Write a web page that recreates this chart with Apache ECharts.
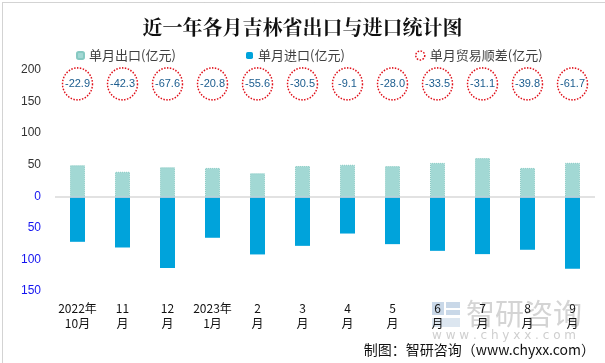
<!DOCTYPE html>
<html><head><meta charset="utf-8">
<script src="https://cdn.jsdelivr.net/npm/echarts@6/dist/echarts.min.js"></script>
<style>html,body{margin:0;padding:0;background:#fff}#c{width:605px;height:363px}</style>
</head><body><div id="c"></div>
<script>
const categories = ['2022年\n10月','11\n月','12\n月','2023年\n1月','2\n月','3\n月','4\n月','5\n月','6\n月','7\n月','8\n月','9\n月'];
const exportValues = [49.2, 38.8, 46.0, 44.9, 36.5, 48.0, 49.9, 47.8, 52.9, 60.5, 44.9, 53.0];
const importValues = [72.1, 81.1, 113.6, 65.7, 92.1, 78.5, 59.0, 75.8, 86.4, 91.6, 84.7, 114.7];
const balanceValues = [-22.9, -42.3, -67.6, -20.8, -55.6, -30.5, -9.1, -28.0, -33.5, -31.1, -39.8, -61.7];
const yTicks = {min: -150, max: 200, interval: 50};
const balanceRow = 178;

const chart = echarts.init(document.getElementById('c'));
const sans = '"Noto Sans CJK SC", "Noto Sans", sans-serif';
chart.setOption({
  animation: false,
  backgroundColor: '#fff',
  title: {
    text: '近一年各月吉林省出口与进口统计图',
    left: 'center', top: 12,
    textStyle: {fontFamily: '"Noto Serif CJK SC", "Noto Sans CJK SC", serif', fontWeight: 'bold', fontSize: 20, color: '#111'}
  },
  legend: [
    {data: ['单月出口(亿元)'], left: 71, top: 44, itemWidth: 7, itemHeight: 7, itemGap: 4,
     textStyle: {fontFamily: sans, fontSize: 13, color: '#404040'}},
    {data: ['单月进口(亿元)'], left: 241, top: 44, itemWidth: 7, itemHeight: 7,
     textStyle: {fontFamily: sans, fontSize: 13, color: '#404040'}},
    {data: [{name: '单月贸易顺差(亿元)', itemStyle: {color: '#fff', borderColor: '#E0101A', borderWidth: 1.5, borderType: 'dotted'}}],
     left: 410, top: 44, itemWidth: 9, itemHeight: 9,
     textStyle: {fontFamily: sans, fontSize: 13, color: '#404040'}}
  ],
  grid: {left: 55, right: 10, top: 70, bottom: 72},
  xAxis: {
    type: 'category', data: categories,
    axisLine: {show: false, onZero: false}, axisTick: {show: false},
    axisLabel: {margin: 10, fontSize: 12, lineHeight: 15, color: '#111', fontFamily: '"Noto Sans CJK SC", sans-serif', interval: 0}
  },
  yAxis: {
    type: 'value', min: yTicks.min, max: yTicks.max, interval: yTicks.interval,
    splitLine: {show: false}, axisLine: {show: false}, axisTick: {show: false},
    axisLabel: {
      fontSize: 12, fontFamily: '"Liberation Sans", sans-serif', margin: 14,
      formatter: v => String(Math.abs(v)),
      color: v => (v > 0 ? '#333' : (v === 0 ? '#B8651B' : '#1414F0'))
    }
  },
  series: [
    {
      name: '单月出口(亿元)', type: 'bar', stack: 'a', barWidth: 15,
      data: exportValues,
      itemStyle: {color: '#A2D8D4', borderColor: '#86C9C2', borderWidth: 1, borderType: 'dotted'},
      markLine: {silent: true, symbol: 'none', label: {show: false},
        lineStyle: {color: '#D9D9D9', width: 1.5, type: 'solid'}, data: [{yAxis: 0}]}
    },
    {
      name: '单月进口(亿元)', type: 'bar', stack: 'a', barWidth: 15,
      data: importValues.map(v => -v),
      itemStyle: {color: '#00A3DB'}
    },
    {
      name: '单月贸易顺差(亿元)', type: 'scatter',
      data: balanceValues.map((v, i) => [i, balanceRow, v]),
      symbol: 'circle', symbolSize: [30, 32],
      itemStyle: {color: '#fff', borderColor: '#E0101A', borderWidth: 1.5, borderType: 'dotted', opacity: 1},
      label: {show: true, position: 'inside', formatter: p => p.value[2].toFixed(1),
        color: '#1B5C8E', fontSize: 11, fontFamily: '"Liberation Sans", sans-serif'}
    }
  ],
  graphic: [
    {type: 'rect', left: 0, top: 0, shape: {width: 604, height: 362},
     style: {fill: 'none', stroke: '#A6A6A6', lineWidth: 1, lineDash: [1, 1]}, silent: true, z: 100},
    {type: 'rect', left: 432, top: 302, shape: {width: 12, height: 13}, style: {fill: '#C9D8E8'}, z: 0},
    {type: 'rect', left: 446, top: 302, shape: {width: 14, height: 6}, style: {fill: '#C9D8E8'}, z: 0},
    {type: 'rect', left: 446, top: 310, shape: {width: 14, height: 5}, style: {fill: '#C9D8E8'}, z: 0},
    {type: 'rect', left: 432, top: 318, shape: {width: 28, height: 9}, style: {fill: '#DCE6F0'}, z: 0},
    {type: 'text', left: 466, top: 299, style: {text: '智研咨询', fill: '#D4D4D4', fontSize: 29, fontFamily: sans}, z: 0},
    {type: 'text', left: 432, top: 330, style: {text: 'w w w . c h y x x . c o m', fill: '#CFCFCF', fontSize: 12, fontFamily: '"DejaVu Sans", sans-serif'}, z: 0},
    {type: 'text', right: 10, top: 343, style: {text: '制图：智研咨询（www.chyxx.com）', fill: '#111', fontSize: 14, fontFamily: sans}, z: 10}
  ]
});
</script></body></html>
